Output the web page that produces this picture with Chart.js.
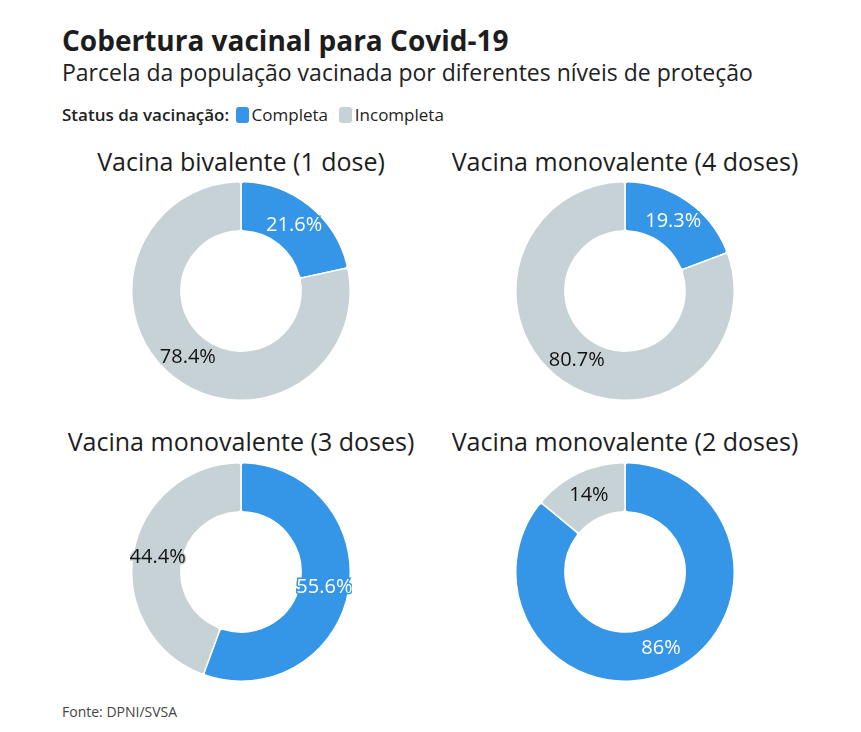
<!DOCTYPE html>
<html><head><meta charset="utf-8">
<script src="https://cdn.jsdelivr.net/npm/chart.js@4/dist/chart.umd.min.js"></script>
<style>
body{margin:0;background:#fff;font-family:"Open Sans",sans-serif;color:#1d1d1d;}
#wrap{position:relative;width:861px;height:732px;}
.t{position:absolute;white-space:nowrap;}
.ct{position:absolute;width:420px;text-align:center;font-size:25px;color:#1d1d1d;}
.cv{position:absolute;width:222px;height:222px;}
.sw{display:inline-block;width:13px;height:16px;border-radius:3px;vertical-align:-2px;margin-right:3px;margin-left:2px;}
</style></head><body>
<div id="wrap">
<div class="t" style="left:62px;top:21px;font-size:28px;font-weight:700;">Cobertura vacinal para Covid-19</div>
<div class="t" style="left:62px;top:56px;font-size:23px;color:#222;">Parcela da população vacinada por diferentes níveis de proteção</div>
<div class="t" id="legend" style="left:62px;top:103px;font-size:17px;color:#222;"></div>
<div class="t" style="left:62px;top:702px;font-size:14px;color:#444;">Fonte: DPNI/SVSA</div>
</div>
<script>
const categories = ["Completa", "Incompleta"];
const chartTitles = ["Vacina bivalente (1 dose)", "Vacina monovalente (4 doses)", "Vacina monovalente (3 doses)", "Vacina monovalente (2 doses)"];
const completa = [21.6, 19.3, 55.6, 86];
const incompleta = [78.4, 80.7, 44.4, 14];
const colors = ["#3596e8", "#c7d2d6"];
const textColors = ["#ffffff", "#111111"];

const wrap = document.getElementById('wrap');
document.getElementById('legend').innerHTML = '<b style="font-weight:600">Status da vacinação:</b> ' +
  categories.map((c,i)=>'<span class="sw" style="background:'+colors[i]+'"></span>'+c).join('&nbsp; ');

const centers = [[241,291],[625,291],[241,572],[625,572]];
const titleY = [144,144,424,424];

const labelPlugin = {
  id:'lbl',
  afterDatasetsDraw(chart){
    const ctx = chart.ctx;
    const meta = chart.getDatasetMeta(0);
    const ds = chart.data.datasets[0];
    ctx.save();
    ctx.font = '20px "Open Sans"';
    ctx.textAlign='center';ctx.textBaseline='middle';
    meta.data.forEach((arc,i)=>{
      const p = arc.tooltipPosition();
      const v = ds.data[i];
      const txt = (Number.isInteger(v)? v : v.toFixed(1)) + '%';
      ctx.lineWidth=3; ctx.lineJoin='miter'; ctx.strokeStyle = colors[i];
      ctx.strokeText(txt,p.x,p.y);
      ctx.fillStyle = textColors[i];
      ctx.fillText(txt,p.x,p.y);
    });
    ctx.restore();
  }
};

for(let k=0;k<4;k++){
  const [cx,cy]=centers[k];
  const t=document.createElement('div');
  t.className='ct'; t.textContent=chartTitles[k];
  t.style.left=(cx-210)+'px'; t.style.top=titleY[k]+'px';
  wrap.appendChild(t);
  const c=document.createElement('canvas');
  c.className='cv'; c.style.left=(cx-111)+'px'; c.style.top=(cy-111)+'px';
  c.width=222;c.height=222;
  wrap.appendChild(c);
  new Chart(c,{
    type:'doughnut',
    data:{labels:categories,datasets:[{data:[completa[k],incompleta[k]],backgroundColor:colors,borderColor:'#ffffff',borderWidth:1.5,borderRadius:3,hoverOffset:0}]},
    options:{responsive:false,animation:false,cutout:'55%',layout:{padding:1},
      plugins:{legend:{display:false},tooltip:{enabled:false}}},
    plugins:[labelPlugin]
  });
}
</script>
</body></html>
